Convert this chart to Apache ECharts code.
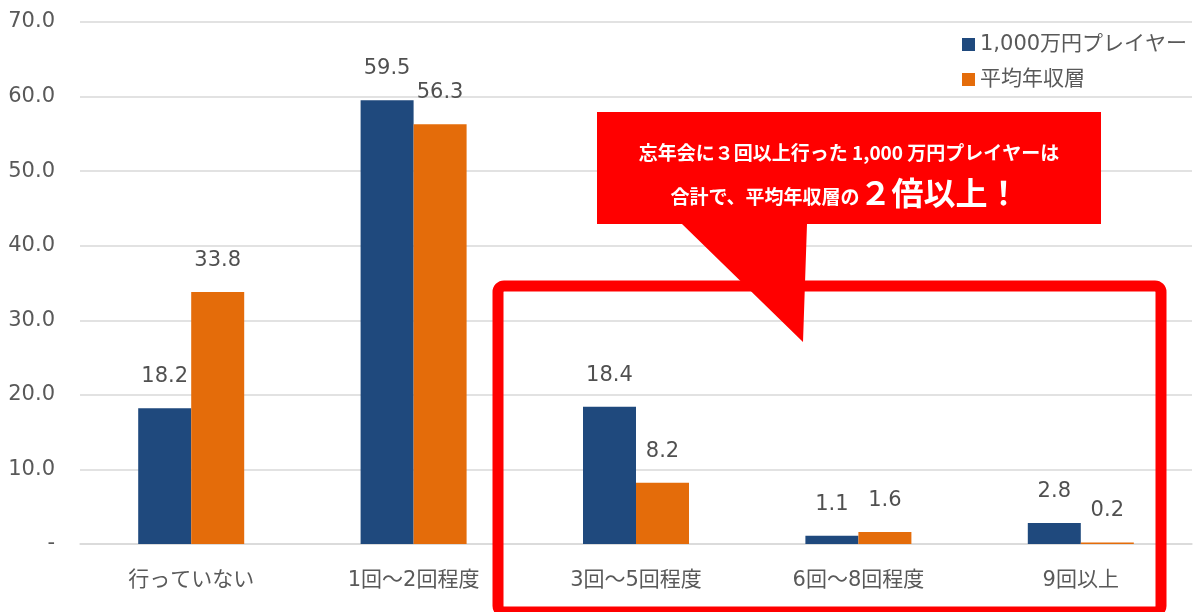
<!DOCTYPE html>
<html>
<head>
<meta charset="utf-8">
<script src="https://cdn.jsdelivr.net/npm/echarts@6/dist/echarts.min.js"></script>
<style>
  html, body { margin: 0; padding: 0; background: #ffffff; }
  #chart { width: 1200px; height: 612px; }
</style>
</head>
<body>
<div id="chart"></div>
<script>
// Year-end party attendance (%) by income group
const categories = ['行っていない', '1回～2回程度', '3回～5回程度', '6回～8回程度', '9回以上'];
const seriesNames = ['1,000万円プレイヤー', '平均年収層'];
const highEarners = [18.2, 59.5, 18.4, 1.1, 2.8];
const averageEarners = [33.8, 56.3, 8.2, 1.6, 0.2];
const yTicks = { min: 0, max: 70, interval: 10 };

const FONT = '"DejaVu Sans", "Noto Sans CJK JP", sans-serif';
const CALLOUT_FONT = '"Noto Sans CJK JP", sans-serif';
const chart = echarts.init(document.getElementById('chart'));

const valueLabel = {
  show: true,
  position: 'top',
  distance: 21,
  fontFamily: FONT,
  fontSize: 21,
  color: '#505050',
  formatter: p => p.value.toFixed(1)
};

chart.setOption({
  animation: false,
  grid: { left: 80, right: 8, top: 22, bottom: 68 },
  legend: {
    orient: 'vertical',
    left: 957,
    top: 29,
    icon: 'rect',
    itemWidth: 13,
    itemHeight: 13,
    itemGap: 14,
    textStyle: { fontFamily: FONT, fontSize: 21, color: '#595959', lineHeight: 21 },
    data: seriesNames
  },
  xAxis: {
    type: 'category',
    data: categories,
    axisLine: { lineStyle: { color: '#d9d9d9', width: 1.5 } },
    axisTick: { show: false },
    axisLabel: { fontFamily: FONT, fontSize: 21, color: '#595959', margin: 26 }
  },
  yAxis: {
    type: 'value',
    min: yTicks.min,
    max: yTicks.max,
    interval: yTicks.interval,
    axisLine: { show: false },
    axisTick: { show: false },
    splitLine: { lineStyle: { color: '#d9d9d9', width: 1.5 } },
    axisLabel: {
      fontFamily: FONT, fontSize: 21, color: '#595959', margin: 25,
      formatter: v => (v === 0 ? '-' : v.toFixed(1))
    }
  },
  series: [
    {
      name: seriesNames[0], type: 'bar', data: highEarners,
      barWidth: 53, barGap: '0%',
      itemStyle: { color: '#1f497d' },
      label: valueLabel
    },
    {
      name: seriesNames[1], type: 'bar', data: averageEarners,
      barWidth: 53,
      itemStyle: { color: '#e46c0a' },
      label: valueLabel
    }
  ],
  graphic: [
    // highlight frame around the 3+ attendance groups
    {
      type: 'rect', z: 100,
      shape: { x: 498, y: 286, width: 663, height: 326, r: 6 },
      style: { fill: null, stroke: '#ff0000', lineWidth: 11 }
    },
    // speech bubble
    {
      type: 'polygon', z: 101,
      shape: { points: [[597, 112], [1101, 112], [1101, 224], [807, 224], [803, 342], [682, 224], [597, 224]] },
      style: { fill: '#ff0000' }
    },
    {
      type: 'text', z: 102,
      x: 849, y: 153,
      style: {
        text: '忘年会に３回以上行った 1,000 万円プレイヤーは',
        fontFamily: CALLOUT_FONT, fontSize: 19, fontWeight: 'bold',
        fill: '#ffffff', align: 'center', verticalAlign: 'middle'
      }
    },
    {
      type: 'text', z: 102,
      x: 845, y: 193,
      style: {
        text: '{s|合計で、平均年収層の}{b|２倍以上！}',
        fontFamily: CALLOUT_FONT, fill: '#ffffff', align: 'center', verticalAlign: 'middle',
        rich: {
          s: { fontFamily: CALLOUT_FONT, fontSize: 19, fontWeight: 'bold', fill: '#ffffff', padding: [7, 0, 0, 0] },
          b: { fontFamily: CALLOUT_FONT, fontSize: 32, fontWeight: 'bold', fill: '#ffffff' }
        }
      }
    }
  ]
});
</script>
</body>
</html>
